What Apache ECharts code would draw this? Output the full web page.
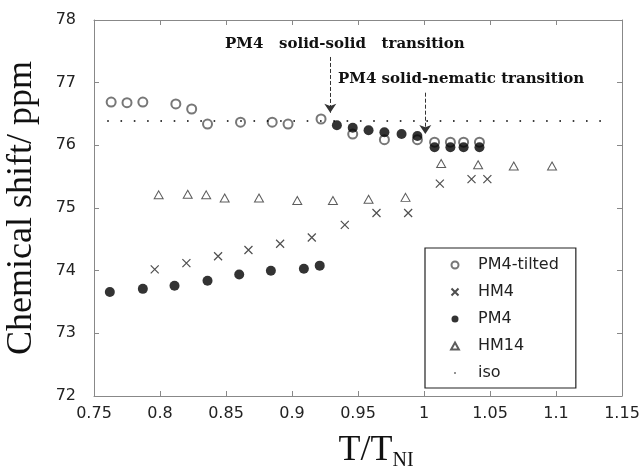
<!DOCTYPE html>
<html>
<head>
<meta charset="utf-8">
<script src="https://cdn.jsdelivr.net/npm/echarts@6/dist/echarts.min.js"></script>
<style>
html, body { margin: 0; padding: 0; background: #fff; }
#main { width: 641px; height: 466px; }
</style>
</head>
<body>
<div id="main"></div>
<script>
// values (T/TNI, chemical shift in ppm)
var pm4TiltedX = [0.763, 0.775, 0.787, 0.812, 0.824, 0.836, 0.861, 0.885, 0.897, 0.922, 0.946, 0.970, 0.995, 1.008, 1.020, 1.030, 1.042];
var pm4TiltedY = [76.69, 76.68, 76.69, 76.66, 76.58, 76.34, 76.37, 76.37, 76.34, 76.42, 76.18, 76.09, 76.09, 76.05, 76.05, 76.05, 76.05];

var hm4X = [0.796, 0.820, 0.844, 0.867, 0.891, 0.915, 0.940, 0.964, 0.988, 1.012, 1.036, 1.048];
var hm4Y = [74.02, 74.12, 74.23, 74.33, 74.43, 74.53, 74.73, 74.92, 74.92, 75.39, 75.46, 75.46];

var pm4X = [0.762, 0.787, 0.811, 0.836, 0.860, 0.884, 0.909, 0.921, 0.934, 0.946, 0.958, 0.970, 0.983, 0.995, 1.008, 1.020, 1.030, 1.042];
var pm4Y = [73.66, 73.71, 73.76, 73.84, 73.94, 74.00, 74.03, 74.08, 76.32, 76.28, 76.24, 76.21, 76.18, 76.15, 75.97, 75.97, 75.97, 75.97];

var hm14X = [0.799, 0.821, 0.835, 0.849, 0.875, 0.904, 0.931, 0.958, 0.986, 1.013, 1.041, 1.068, 1.097];
var hm14Y = [75.21, 75.22, 75.21, 75.16, 75.16, 75.12, 75.12, 75.14, 75.17, 75.71, 75.69, 75.67, 75.67];

var isoShift = 76.40;
var isoRange = [0.76, 1.14];

// transition arrows: x, start y, end y
var solidSolid = [0.929, 77.41, 76.52];
var solidNematic = [1.001, 76.84, 76.18];

function pairs(xs, ys) {
    var out = [];
    for (var i = 0; i < xs.length; i++) {
        out.push([xs[i], ys[i]]);
    }
    return out;
}

var axisColor = '#888';
var sans = 'DejaVu Sans';
var serif = 'Liberation Serif';

var chart = echarts.init(document.getElementById('main'));

var option = {
    animation: false,
    grid: { left: 94, right: 19, top: 20, bottom: 70, outerBoundsMode: 'none' },
    xAxis: [{
        type: 'value',
        min: 0.75, max: 1.15, interval: 0.05,
        axisLine: { show: true, onZero: false, lineStyle: { color: axisColor } },
        axisTick: { show: true, inside: true, length: 5, lineStyle: { color: axisColor } },
        axisLabel: { fontFamily: sans, fontSize: 16, color: '#222', margin: 10 },
        splitLine: { show: false },
        name: '{a|T/T}{b|NI}',
        nameLocation: 'middle',
        nameGap: 34,
        nameTextStyle: {
            padding: [0, 0, 0, 36],
            rich: {
                a: { fontFamily: serif, fontSize: 36, color: '#111' },
                b: { fontFamily: serif, fontSize: 20, color: '#111', padding: [21, 0, 0, 0] }
            }
        }
    }, {
        type: 'value',
        position: 'top',
        min: 0.75, max: 1.15, interval: 0.05,
        axisLine: { show: true, onZero: false, lineStyle: { color: axisColor } },
        axisTick: { show: true, inside: true, length: 5, lineStyle: { color: axisColor } },
        axisLabel: { show: false },
        splitLine: { show: false }
    }],
    yAxis: [{
        type: 'value',
        min: 72, max: 78, interval: 1,
        axisLine: { show: true, onZero: false, lineStyle: { color: axisColor } },
        axisTick: { show: true, inside: true, length: 5, lineStyle: { color: axisColor } },
        axisLabel: { fontFamily: sans, fontSize: 16, color: '#222', margin: 18 },
        splitLine: { show: false },
        name: 'Chemical shift/ ppm',
        nameLocation: 'middle',
        nameGap: 54,
        nameTextStyle: { fontFamily: serif, fontSize: 36, color: '#111' }
    }, {
        type: 'value',
        position: 'right',
        min: 72, max: 78, interval: 1,
        axisLine: { show: true, onZero: false, lineStyle: { color: axisColor } },
        axisTick: { show: true, inside: true, length: 5, lineStyle: { color: axisColor } },
        axisLabel: { show: false },
        splitLine: { show: false }
    }],
    legend: {
        orient: 'vertical',
        left: 425,
        top: 248,
        itemWidth: 36,
        itemHeight: 7,
        itemGap: 11,
        padding: [9, 17, 7, 24],
        borderColor: '#222',
        borderWidth: 1.2,
        textStyle: { fontFamily: sans, fontSize: 16, color: '#222' },
        data: ['PM4-tilted', 'HM4', 'PM4', 'HM14', 'iso']
    },
    graphic: [
        { type: 'text', left: 225, top: 37, style: { text: 'PM4   solid-solid   transition', font: 'bold 15px "DejaVu Serif"', fill: '#111' } },
        { type: 'text', left: 338, top: 72, style: { text: 'PM4 solid-nematic transition', font: 'bold 15px "DejaVu Serif"', fill: '#111' } }
    ],
    series: [{
        name: 'PM4-tilted',
        type: 'scatter',
        symbol: 'emptyCircle',
        symbolSize: 9,
        itemStyle: { color: '#555', borderWidth: 1 },
        data: pairs(pm4TiltedX, pm4TiltedY)
    }, {
        name: 'HM4',
        type: 'scatter',
        symbol: 'path://M0,0L10,10M10,0L0,10',
        symbolSize: 8,
        itemStyle: { color: 'none', borderColor: '#222', borderWidth: 1.2 },
        data: pairs(hm4X, hm4Y)
    }, {
        name: 'PM4',
        type: 'scatter',
        symbol: 'circle',
        symbolSize: 10,
        itemStyle: { color: '#000' },
        data: pairs(pm4X, pm4Y),
        markLine: {
            silent: true,
            symbol: ['none', 'arrow'],
            symbolSize: 9,
            label: { show: false },
            lineStyle: { type: 'dashed', color: '#333', width: 1 },
            data: [
                [{ coord: [solidSolid[0], solidSolid[1]] }, { coord: [solidSolid[0], solidSolid[2]] }],
                [{ coord: [solidNematic[0], solidNematic[1]] }, { coord: [solidNematic[0], solidNematic[2]] }]
            ]
        }
    }, {
        name: 'HM14',
        type: 'scatter',
        symbol: 'path://M5,0L10,9L0,9Z',
        symbolSize: [9, 8],
        itemStyle: { color: '#fff', borderColor: '#333', borderWidth: 1 },
        data: pairs(hm14X, hm14Y)
    }, {
        name: 'iso',
        type: 'scatter',
        symbol: 'path://M0,0M10,10M4,4L6,4L6,6L4,6Z',
        symbolSize: 8,
        itemStyle: { color: '#000' },
        data: [],
        markLine: {
            silent: true,
            symbol: 'none',
            label: { show: false },
            lineStyle: { type: [1.6, 11.7], color: '#000', width: 1.6 },
            data: [
                [{ coord: [isoRange[0], isoShift] }, { coord: [isoRange[1], isoShift] }]
            ]
        }
    }]
};

chart.setOption(option);
</script>
</body>
</html>
